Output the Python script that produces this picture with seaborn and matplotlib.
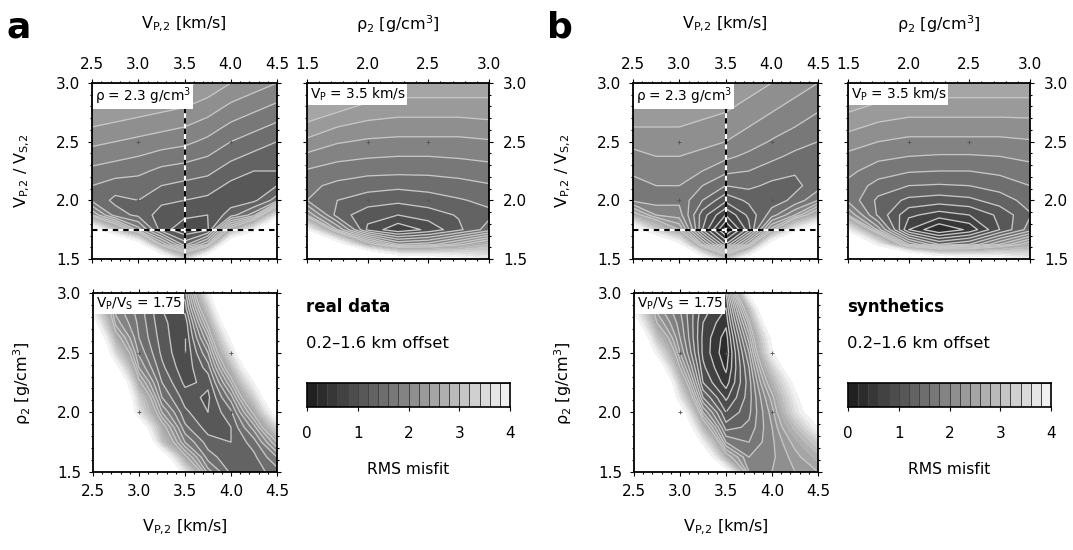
import numpy as np
import matplotlib
matplotlib.use("Agg")
import matplotlib.pyplot as plt
from matplotlib.ticker import MultipleLocator, FormatStrFormatter
import seaborn as sns

# ---------------- data (RMS misfit) ----------------
vp_axis = [2.5, 2.75, 3.0, 3.25, 3.5, 3.75, 4.0, 4.25, 4.5]
rho_axis = [1.5, 1.75, 2.0, 2.25, 2.5, 2.75, 3.0]
ratio_rows = [3.0, 2.875, 2.75, 2.625, 2.5, 2.375, 2.25, 2.125, 2.0, 1.875, 1.75, 1.625, 1.5]
rho_rows = [3.0, 2.875, 2.75, 2.625, 2.5, 2.375, 2.25, 2.125, 2.0, 1.875, 1.75, 1.625, 1.5]

# real data: Vp (columns) vs Vp/Vs (rows), rho = 2.3
real_vp_ratio = [
    [2.6, 2.55, 2.5, 2.45, 2.45, 2.35, 2.2, 2.1, 2.0],
    [2.5, 2.45, 2.4, 2.35, 2.3, 2.2, 2.05, 1.95, 1.85],
    [2.35, 2.3, 2.25, 2.2, 2.15, 2.05, 1.9, 1.8, 1.7],
    [2.2, 2.15, 2.1, 2.05, 2.0, 1.9, 1.75, 1.65, 1.55],
    [2.05, 2.0, 1.95, 1.9, 1.85, 1.75, 1.6, 1.5, 1.4],
    [1.9, 1.85, 1.8, 1.72, 1.68, 1.6, 1.45, 1.35, 1.3],
    [1.75, 1.7, 1.65, 1.55, 1.5, 1.45, 1.3, 1.2, 1.2],
    [1.6, 1.5, 1.5, 1.4, 1.35, 1.3, 1.15, 1.1, 1.2],
    [1.55, 1.35, 1.4, 1.25, 1.2, 1.15, 1.1, 1.15, 1.5],
    [2.2, 1.5, 1.35, 1.1, 1.05, 1.0, 1.3, 1.7, 3.6],
    [4.5, 3.0, 1.9, 1.1, 0.85, 0.95, 2.6, 3.8, 6.0],
    [6.0, 6.0, 4.5, 2.2, 1.3, 2.0, 5.0, 6.0, 6.0],
    [6.0, 6.0, 6.0, 5.0, 3.2, 5.0, 6.0, 6.0, 6.0],
]
# real data: rho (columns) vs Vp/Vs (rows), Vp = 3.5
real_rho_ratio = [
    [2.75, 2.65, 2.55, 2.5, 2.5, 2.5, 2.5],
    [2.65, 2.55, 2.45, 2.4, 2.4, 2.4, 2.4],
    [2.5, 2.4, 2.3, 2.25, 2.25, 2.25, 2.28],
    [2.35, 2.2, 2.12, 2.1, 2.1, 2.1, 2.12],
    [2.15, 2.02, 1.97, 1.95, 1.95, 1.95, 1.98],
    [1.95, 1.86, 1.82, 1.8, 1.8, 1.82, 1.85],
    [1.78, 1.7, 1.66, 1.65, 1.65, 1.68, 1.72],
    [1.65, 1.55, 1.48, 1.45, 1.48, 1.52, 1.58],
    [1.6, 1.4, 1.3, 1.25, 1.3, 1.38, 1.45],
    [2.2, 1.3, 1.08, 1.0, 1.1, 1.22, 1.35],
    [4.0, 2.0, 0.95, 0.65, 0.85, 1.15, 1.5],
    [6.0, 4.5, 2.6, 1.8, 1.9, 2.3, 2.8],
    [6.0, 6.0, 6.0, 4.8, 4.6, 4.3, 3.8],
]
# real data: Vp (columns) vs rho (rows), Vp/Vs = 1.75
real_vp_rho = [
    [3.0, 1.8, 1.4, 1.0, 1.3, 3.8, 6.0, 6.0, 6.0],
    [3.6, 1.9, 1.5, 1.0, 1.1, 3.1, 6.0, 6.0, 6.0],
    [4.4, 2.1, 1.55, 1.05, 0.85, 2.5, 5.0, 6.0, 6.0],
    [5.5, 2.6, 1.6, 1.1, 0.8, 2.0, 4.2, 6.0, 6.0],
    [6.0, 3.3, 1.75, 1.15, 0.8, 1.6, 3.5, 6.0, 6.0],
    [6.0, 4.3, 2.0, 1.25, 0.85, 1.3, 2.8, 5.0, 6.0],
    [6.0, 5.5, 2.5, 1.4, 0.95, 1.05, 2.2, 4.0, 6.0],
    [6.0, 6.0, 3.2, 1.6, 1.1, 0.95, 1.7, 3.2, 5.5],
    [6.0, 6.0, 3.6, 2.0, 1.25, 1.0, 1.35, 2.5, 4.5],
    [6.0, 6.0, 4.8, 2.6, 1.45, 1.1, 1.2, 1.9, 3.3],
    [6.0, 6.0, 6.0, 3.0, 1.8, 1.3, 1.2, 1.5, 2.4],
    [6.0, 6.0, 6.0, 4.8, 2.5, 1.5, 1.25, 1.35, 1.8],
    [6.0, 6.0, 6.0, 6.0, 3.6, 1.9, 1.35, 1.3, 1.5],
]
# synthetics
syn_vp_ratio = [
    [2.6, 2.55, 2.5, 2.45, 2.4, 2.3, 2.2, 2.1, 2.0],
    [2.5, 2.45, 2.4, 2.35, 2.3, 2.2, 2.1, 2.0, 1.9],
    [2.35, 2.35, 2.3, 2.25, 2.2, 2.1, 2.0, 1.9, 1.8],
    [2.2, 2.2, 2.2, 2.15, 2.1, 2.0, 1.9, 1.8, 1.7],
    [2.05, 2.1, 2.1, 2.05, 2.0, 1.9, 1.78, 1.68, 1.6],
    [1.95, 2.0, 2.0, 1.95, 1.85, 1.75, 1.65, 1.55, 1.5],
    [1.85, 1.9, 1.9, 1.8, 1.65, 1.6, 1.5, 1.42, 1.45],
    [1.7, 1.8, 1.8, 1.6, 1.4, 1.45, 1.35, 1.35, 1.5],
    [1.75, 1.7, 1.75, 1.4, 1.05, 1.25, 1.3, 1.45, 1.8],
    [2.6, 2.0, 1.9, 1.1, 0.6, 1.05, 1.5, 2.0, 2.8],
    [4.6, 3.2, 2.4, 1.0, 0.15, 0.9, 2.3, 3.8, 5.0],
    [6.0, 5.5, 4.2, 2.0, 0.8, 2.0, 4.5, 6.0, 6.0],
    [6.0, 6.0, 6.0, 4.5, 3.0, 4.5, 6.0, 6.0, 6.0],
]
syn_rho_ratio = [
    [2.6, 2.55, 2.5, 2.5, 2.5, 2.5, 2.5],
    [2.5, 2.45, 2.4, 2.4, 2.4, 2.4, 2.4],
    [2.4, 2.3, 2.25, 2.25, 2.25, 2.25, 2.25],
    [2.25, 2.15, 2.1, 2.1, 2.1, 2.1, 2.12],
    [2.1, 2.0, 1.95, 1.95, 1.95, 1.95, 1.98],
    [1.95, 1.85, 1.8, 1.78, 1.78, 1.8, 1.85],
    [1.85, 1.7, 1.62, 1.6, 1.6, 1.65, 1.72],
    [1.75, 1.52, 1.4, 1.38, 1.4, 1.48, 1.6],
    [1.75, 1.35, 1.15, 1.1, 1.15, 1.3, 1.48],
    [2.2, 1.35, 0.85, 0.7, 0.8, 1.05, 1.38],
    [3.8, 1.9, 0.6, 0.2, 0.45, 1.0, 1.5],
    [6.0, 3.8, 1.8, 1.2, 1.4, 2.0, 2.6],
    [6.0, 6.0, 6.0, 4.8, 4.6, 4.4, 3.8],
]
syn_vp_rho = [
    [3.2, 2.0, 1.6, 1.0, 0.8, 4.2, 6.0, 6.0, 6.0],
    [3.8, 2.1, 1.6, 0.9, 0.6, 2.9, 6.0, 6.0, 6.0],
    [4.6, 2.4, 1.7, 0.8, 0.45, 2.3, 5.0, 6.0, 6.0],
    [5.6, 3.0, 1.8, 0.75, 0.3, 1.9, 4.2, 6.0, 6.0],
    [6.0, 3.8, 2.0, 0.75, 0.25, 1.6, 3.9, 5.8, 6.0],
    [6.0, 4.8, 2.4, 0.85, 0.35, 1.4, 3.2, 5.0, 6.0],
    [6.0, 6.0, 3.0, 1.0, 0.5, 1.3, 2.7, 4.2, 5.8],
    [6.0, 6.0, 3.6, 1.4, 0.75, 1.3, 2.3, 3.8, 5.2],
    [6.0, 6.0, 4.6, 2.0, 1.0, 1.35, 2.1, 3.5, 4.8],
    [6.0, 6.0, 5.4, 2.8, 1.3, 1.45, 2.0, 2.9, 4.0],
    [6.0, 6.0, 6.0, 3.8, 1.8, 1.6, 1.95, 2.5, 3.2],
    [6.0, 6.0, 6.0, 5.0, 2.6, 1.8, 1.95, 2.3, 2.7],
    [6.0, 6.0, 6.0, 6.0, 4.4, 2.0, 2.0, 2.2, 2.4],
]

cbar_ticks = [0, 1, 2, 3, 4]
fixed_rho = 2.3
fixed_vp = 3.5
fixed_ratio = 1.75

# ---------------- style ----------------
sns.set_style("ticks")
plt.rcParams["font.family"] = ["DejaVu Sans"]
plt.rcParams["mathtext.default"] = "regular"
plt.rcParams["axes.linewidth"] = 1.3
for key in ("text.color", "axes.labelcolor", "xtick.color", "ytick.color",
            "axes.edgecolor"):
    plt.rcParams[key] = "black"

W, H = 1073, 550
fig = plt.figure(figsize=(W / 100, H / 100), dpi=100)
cmap = sns.blend_palette(["#1c1c1c", "#f6f6f6"], as_cmap=True)
fill_levels = np.arange(0, 4.0001, 0.2)
line_levels = np.arange(0.2, 2.41, 0.2)

TICK = 11


def add_ax(l, t, r, b):
    return fig.add_axes([l / W, 1 - b / H, (r - l) / W, (b - t) / H])


def panel(ax, xs, ys, z, xlim, ylim, lab_top, lab_bot, lab_left, lab_right):
    X, Y = np.meshgrid(xs, ys)
    Z = np.array(z)
    ax.contourf(X, Y, Z, levels=fill_levels, cmap=cmap, vmin=0, vmax=4)
    ax.contour(X, Y, Z, levels=line_levels, colors="#c6c6c6", linewidths=0.95)
    ax.set_xlim(*xlim)
    ax.set_ylim(*ylim)
    for a in (ax.xaxis, ax.yaxis):
        a.set_major_locator(MultipleLocator(0.5))
        a.set_minor_locator(MultipleLocator(0.1))
        a.set_major_formatter(FormatStrFormatter("%.1f"))
    ax.tick_params(which="both", direction="out", top=True, bottom=True,
                   left=True, right=True, width=0.8, labelsize=TICK,
                   labeltop=lab_top, labelbottom=lab_bot,
                   labelleft=lab_left, labelright=lab_right)
    ax.tick_params(which="major", length=3)
    ax.tick_params(which="minor", length=1.6)
    ax.tick_params(axis="x", which="major", pad=5 if lab_top else 6)
    ax.tick_params(axis="y", which="major", pad=5.5 if lab_left else 7)
    # grid crosses at interior annotation points
    gx = [v for v in ax.get_xticks() if xlim[0] < v < xlim[1]]
    gy = [v for v in ax.get_yticks() if ylim[0] < v < ylim[1]]
    GX, GY = np.meshgrid(gx, gy)
    ax.plot(GX.ravel(), GY.ravel(), ls="none", marker="+", ms=3, mew=0.6,
            color="#555555")
    for s in ax.spines.values():
        s.set_visible(True)
        s.set_linewidth(1.3)
        s.set_zorder(5)


def box_label(ax, txt):
    ax.text(0.015, 0.985, txt, transform=ax.transAxes, ha="left", va="top",
            fontsize=9.8, zorder=6,
            bbox=dict(facecolor="white", edgecolor="none", pad=1.2))


def dashed(ax):
    ax.axvline(fixed_vp, color="white", lw=1.5, zorder=4)
    ax.axvline(fixed_vp, color="black", lw=1.5, dashes=(2.6, 2.4), zorder=4)
    ax.axhline(fixed_ratio, color="white", lw=1.5, zorder=4)
    ax.axhline(fixed_ratio, color="black", lw=1.5, dashes=(2.6, 2.4), zorder=4)


def colorbar(l, t, r, b):
    cax = add_ax(l, t, r, b)
    mids = (fill_levels[:-1] + fill_levels[1:]) / 2
    sns.heatmap(np.array([mids]), ax=cax, cmap=cmap, vmin=0, vmax=4,
                cbar=False, linewidths=0.6, linecolor="#444444",
                xticklabels=False, yticklabels=False)
    n = len(mids)
    cax.set_xticks([t_ * n / 4 for t_ in cbar_ticks])
    cax.set_xticklabels([str(t_) for t_ in cbar_ticks])
    cax.set_yticks([])
    cax.tick_params(axis="x", bottom=True, length=3, width=0.8, pad=11,
                    labelsize=TICK, labelbottom=True)
    for s in cax.spines.values():
        s.set_visible(True)
        s.set_linewidth(1.2)
        s.set_color("black")
    return cax


def fig_text(x, y, s, **kw):
    fig.text(x / W, 1 - y / H, s, **kw)


lab_vp = "V$_{P{,}2}$ [km/s]"
lab_rho = "ρ$_{2}$ [g/cm$^{3}$]"
lab_ratio = "V$_{P{,}2}$ / V$_{S{,}2}$"

sets = [
    (0, "a", "real data", real_vp_ratio, real_rho_ratio, real_vp_rho),
    (541, "b", "synthetics", syn_vp_ratio, syn_rho_ratio, syn_vp_rho),
]
for dx, letter, title, z1, z2, z3 in sets:
    ax1 = add_ax(92 + dx, 83, 277 + dx, 259)
    panel(ax1, vp_axis, ratio_rows, z1, (2.5, 4.5), (1.5, 3.0),
          True, False, True, False)
    dashed(ax1)
    box_label(ax1, "ρ = %.1f g/cm$^{3}$" % fixed_rho)

    ax2 = add_ax(307 + dx, 83, 489 + dx, 259)
    panel(ax2, rho_axis, ratio_rows, z2, (1.5, 3.0), (1.5, 3.0),
          True, False, False, True)
    box_label(ax2, "V$_{P}$ = %.1f km/s" % fixed_vp)

    ax3 = add_ax(93 + dx, 293, 277 + dx, 472)
    panel(ax3, vp_axis, rho_rows, z3, (2.5, 4.5), (1.5, 3.0),
          False, True, True, False)
    box_label(ax3, "V$_{P}$/V$_{S}$ = %.2f" % fixed_ratio)

    colorbar(307 + dx, 383, 510 + dx, 407)

    fig_text(19 + dx, 27, letter, fontsize=26, fontweight="bold",
             ha="center", va="center")
    fig_text(184 + dx, 24, lab_vp, fontsize=11.5, ha="center", va="center")
    fig_text(398 + dx, 24, lab_rho, fontsize=11.5, ha="center", va="center")
    fig_text(22 + dx, 171, lab_ratio, fontsize=11.5, ha="center", va="center",
             rotation=90)
    fig_text(22 + dx, 383, lab_rho, fontsize=11.5, ha="center", va="center",
             rotation=90)
    fig_text(185 + dx, 527, lab_vp, fontsize=11.5, ha="center", va="center")
    fig_text(306 + dx, 307, title, fontsize=12, fontweight="bold",
             ha="left", va="center")
    fig_text(306 + dx, 343, "0.2–1.6 km offset", fontsize=11.8,
             ha="left", va="center")
    fig_text(408 + dx, 470, "RMS misfit", fontsize=11.2,
             ha="center", va="center")

fig.savefig("out.png", dpi=100)
